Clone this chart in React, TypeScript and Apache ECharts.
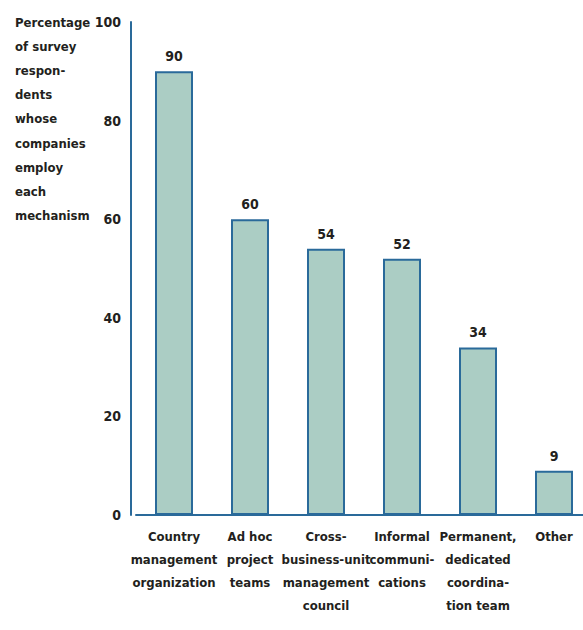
import React, { useEffect, useRef } from "react";
import * as echarts from "echarts";

const categories = [
  "Country\nmanagement\norganization",
  "Ad hoc\nproject\nteams",
  "Cross-\nbusiness-unit\nmanagement\ncouncil",
  "Informal\ncommuni-\ncations",
  "Permanent,\ndedicated\ncoordina-\ntion team",
  "Other",
];
const values = [90, 60, 54, 52, 34, 9];
const yTitle = "Percentage\nof survey\nrespon-\ndents\nwhose\ncompanies\nemploy\neach\nmechanism";

const FONT = "'DejaVu Sans Condensed', 'Liberation Sans Narrow', sans-serif";
const TEXT = "#231f20";
const BLUE = "#2a6a9a";
const FS = 13;

export default function App() {
  const ref = useRef<HTMLDivElement>(null);
  useEffect(() => {
    const chart = echarts.init(ref.current!, null, { renderer: "svg" });
    chart.setOption({
      animation: false,
      grid: { left: 136, right: 0, top: 22, bottom: 115, containLabel: false },
      graphic: [
        {
          type: "text",
          left: 15,
          top: 10,
          style: {
            text: yTitle,
            fontFamily: FONT,
            fontWeight: "bold",
            fontSize: FS,
            lineHeight: 24.2,
            fill: TEXT,
          },
        },
      ],
      xAxis: {
        type: "category",
        data: categories,
        axisLine: { show: true, lineStyle: { color: BLUE, width: 2 } },
        axisTick: { show: false },
        axisLabel: {
          interval: 0,
          margin: 10,
          fontFamily: FONT,
          fontWeight: "bold",
          fontSize: FS,
          lineHeight: 23,
          color: TEXT,
          align: "center",
        },
      },
      yAxis: {
        type: "value",
        min: 0,
        max: 100,
        interval: 20,
        offset: 5,
        splitLine: { show: false },
        axisLine: { show: true, lineStyle: { color: BLUE, width: 2 } },
        axisTick: { show: false },
        axisLabel: {
          margin: 10,
          fontFamily: FONT,
          fontWeight: "bold",
          fontSize: 14,
          color: TEXT,
        },
      },
      series: [
        {
          type: "bar",
          data: values,
          barWidth: 38,
          itemStyle: { color: "#abcdc4", borderColor: BLUE, borderWidth: 2 },
          label: {
            show: true,
            position: "top",
            distance: 8,
            fontFamily: FONT,
            fontWeight: "bold",
            fontSize: 14,
            color: TEXT,
          },
        },
      ],
    });
    return () => chart.dispose();
  }, []);
  return (
    <div style={{ position: "absolute", left: 0, top: 0, width: 583, height: 630, overflow: "hidden" }}>
      <div ref={ref} style={{ width: 592, height: 630 }} />
    </div>
  );
}
